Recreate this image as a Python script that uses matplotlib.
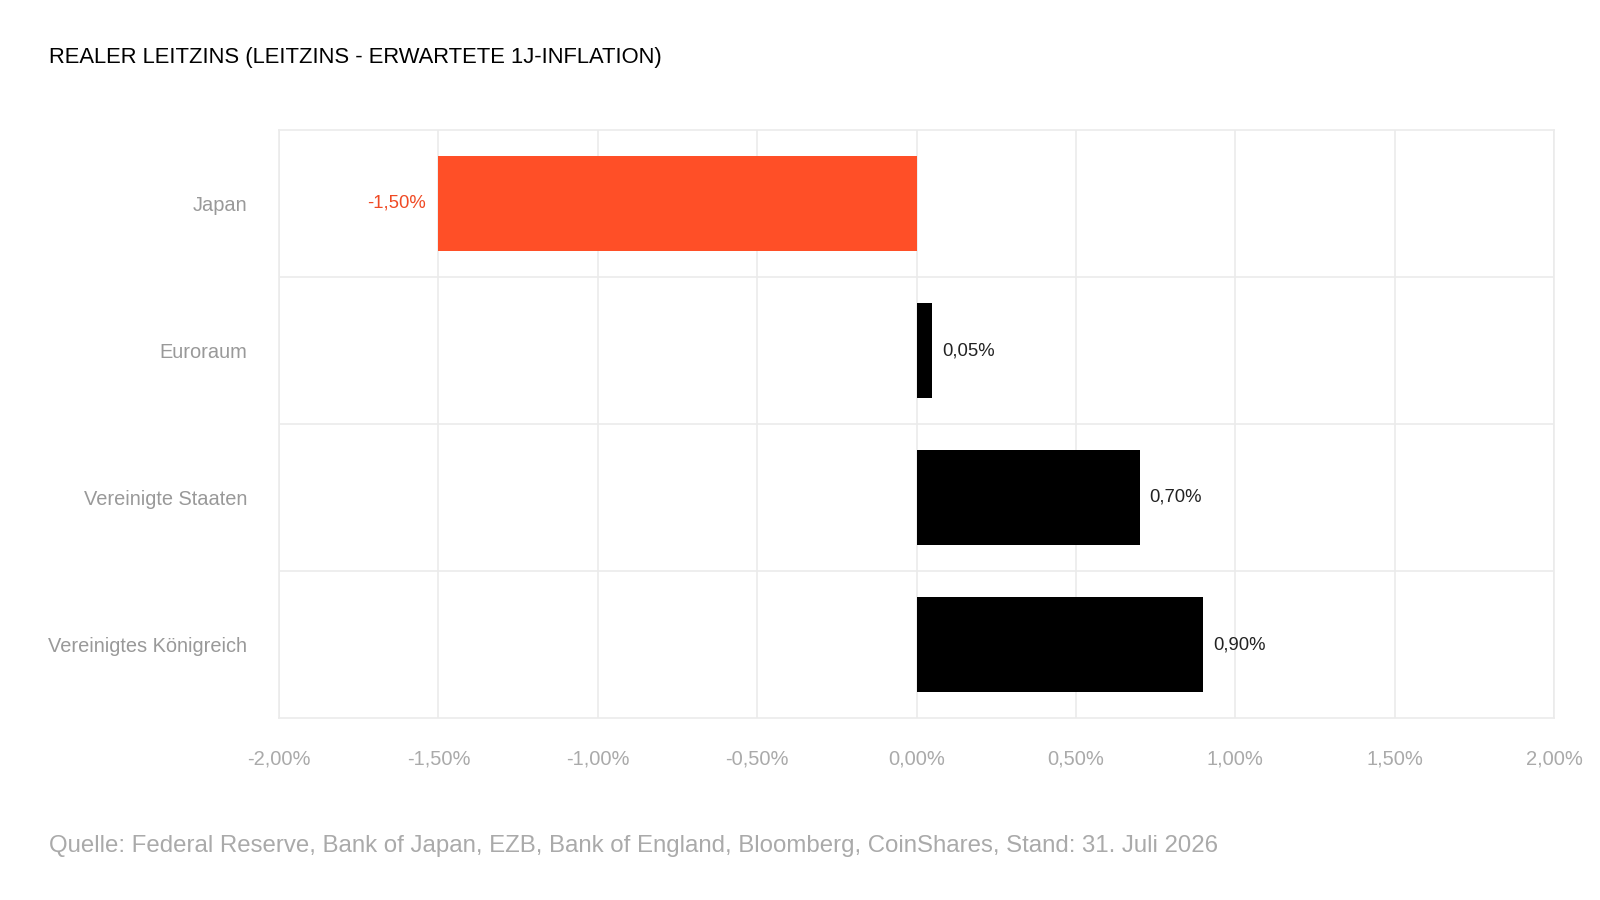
import matplotlib.pyplot as plt
from matplotlib.ticker import FixedLocator

plt.rcParams['font.family'] = ['Liberation Sans', 'DejaVu Sans']

# Data
countries = ['Japan', 'Euroraum', 'Vereinigte Staaten', 'Vereinigtes Königreich']
real_rates = [-1.50, 0.05, 0.70, 0.90]
bar_colors = ['#FF4F27', '#000000', '#000000', '#000000']
label_colors = ['#F04A24', '#222222', '#222222', '#222222']
xticks = [-2.0, -1.5, -1.0, -0.5, 0.0, 0.5, 1.0, 1.5, 2.0]


def fmt_pct(v):
    return f'{v:.2f}%'.replace('.', ',')


W, H = 1600, 900
fig = plt.figure(figsize=(16, 9), dpi=100)
left, right, top, bottom = 279, 1554, 130, 718
ax = fig.add_axes([left / W, 1 - bottom / H, (right - left) / W, (bottom - top) / H])

y = list(range(len(countries)))
ax.barh(y, real_rates, height=0.64, color=bar_colors, zorder=3)

for yi, v, c in zip(y, real_rates, label_colors):
    if v < 0:
        ax.text(v - 0.038, yi, fmt_pct(v), ha='right', va='center', color=c, fontsize=13.3)
    else:
        ax.text(v + 0.03, yi, fmt_pct(v), ha='left', va='center', color=c, fontsize=13.3)

ax.set_xlim(-2, 2)
ax.set_ylim(3.5, -0.5)
ax.set_xticks(xticks)
ax.set_xticklabels([fmt_pct(t) for t in xticks])
ax.set_yticks(y)
ax.set_yticklabels(countries)
ax.yaxis.set_minor_locator(FixedLocator([0.5, 1.5, 2.5]))

ax.grid(axis='x', which='major', color='#EBEBEB', linewidth=1.2, zorder=0)
ax.grid(axis='y', which='minor', color='#EBEBEB', linewidth=1.2, zorder=0)
ax.tick_params(axis='both', which='both', length=0)
ax.tick_params(axis='y', pad=23, labelsize=14.4, labelcolor='#999999')
ax.tick_params(axis='x', pad=23, labelsize=14.5, labelcolor='#AAAAAA')
for s in ax.spines.values():
    s.set_color('#EBEBEB')
    s.set_linewidth(1.2)

fig.text(49 / W, 1 - 58 / H, 'REALER LEITZINS (LEITZINS - ERWARTETE 1J-INFLATION)',
         fontsize=15.8, color='#000000', ha='left', va='center')
fig.text(49 / W, 1 - 846 / H,
         'Quelle: Federal Reserve, Bank of Japan, EZB, Bank of England, Bloomberg, CoinShares, Stand: 31. Juli 2026',
         fontsize=17.25, color='#AAAAAA', ha='left', va='center')

fig.savefig('out.png', dpi=100, facecolor='white')
